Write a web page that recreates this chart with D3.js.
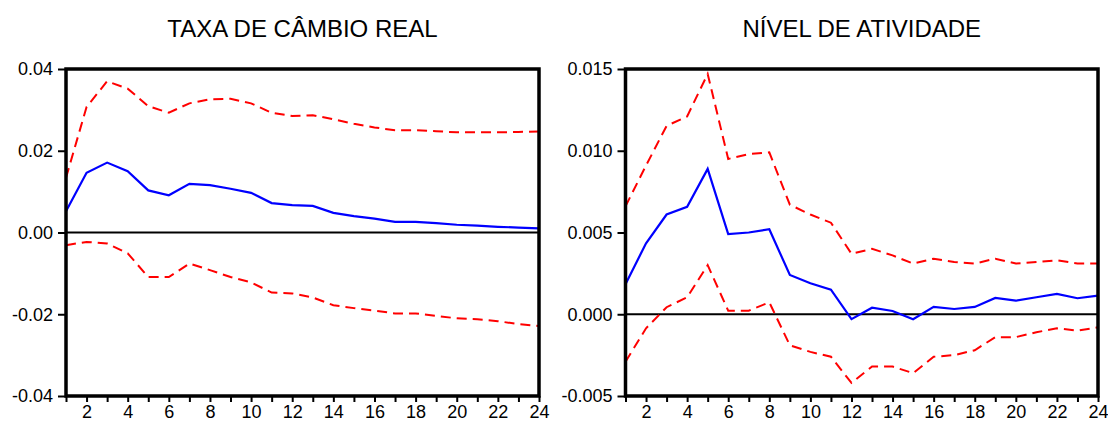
<!DOCTYPE html>
<html>
<head>
<meta charset="utf-8">
<script src="https://cdn.jsdelivr.net/npm/d3@7"></script>
<style>
  body { margin: 0; background: #fff; }
  text { font-family: "Liberation Sans", Arial, sans-serif; fill: #000; }
</style>
</head>
<body>
<div id="viz"></div>
<script>
const periods = d3.range(1, 25);

// taxa de cambio real
const cambioResp  = [0.0052, 0.0146, 0.0171, 0.0150, 0.0103, 0.0091, 0.0119, 0.0116, 0.0107, 0.0097, 0.0072, 0.0067,
                     0.0065, 0.0048, 0.0040, 0.0034, 0.0026, 0.0026, 0.0023, 0.0019, 0.0017, 0.0014, 0.0012, 0.0010];
const cambioUpper = [0.0134, 0.0307, 0.0370, 0.0352, 0.0309, 0.0293, 0.0316, 0.0326, 0.0327, 0.0316, 0.0293, 0.0285,
                     0.0287, 0.0277, 0.0266, 0.0257, 0.0250, 0.0250, 0.0248, 0.0245, 0.0245, 0.0245, 0.0246, 0.0247];
const cambioLower = [-0.0031, -0.0023, -0.0027, -0.0051, -0.0109, -0.0109, -0.0076, -0.0092, -0.0109, -0.0122, -0.0147, -0.0149,
                     -0.0159, -0.0178, -0.0185, -0.0191, -0.0198, -0.0198, -0.0204, -0.0210, -0.0212, -0.0217, -0.0224, -0.0229];
const cambioTicks = [-0.04, -0.02, 0.00, 0.02, 0.04];

// nivel de atividade
const ativResp  = [0.00184, 0.00434, 0.0061, 0.00657, 0.00889, 0.0049, 0.0050, 0.0052, 0.0024, 0.0019, 0.0015, -0.0003,
                   0.0004, 0.0002, -0.0003, 0.00045, 0.00032, 0.00045, 0.0010, 0.00083, 0.00104, 0.00124, 0.00098, 0.00114];
const ativUpper = [0.0066, 0.0091, 0.01152, 0.0121, 0.0147, 0.0095, 0.0098, 0.0099, 0.0067, 0.0061, 0.0056, 0.0037,
                   0.0040, 0.0036, 0.0031, 0.0034, 0.0032, 0.0031, 0.0034, 0.0031, 0.0032, 0.0033, 0.0031, 0.0031];
const ativLower = [-0.0029, -0.00086, 0.00043, 0.00104, 0.0030, 0.00022, 0.00022, 0.00073, -0.0019, -0.0023, -0.0026, -0.0042,
                   -0.0032, -0.0032, -0.0036, -0.0026, -0.0025, -0.0022, -0.0014, -0.0014, -0.0011, -0.00086, -0.0010, -0.0008];
const ativTicks = [-0.005, 0.000, 0.005, 0.010, 0.015];

const svg = d3.select("#viz")
    .append("svg")
        .attr("width", 1108)
        .attr("height", 422);

function panel(title, resp, upper, lower, yTicks, digits, left, right) {
    const top = 69, bottom = 396;

    const x = d3.scaleLinear().domain([1, 24]).range([left, right]);
    const y = d3.scaleLinear()
        .domain([yTicks[0], yTicks[yTicks.length - 1]])
        .range([bottom, top]);

    const g = svg.append("g");

    g.append("text")
        .attr("x", (left + right) / 2)
        .attr("y", 37)
        .attr("text-anchor", "middle")
        .style("font-size", "24px")
        .text(title);

    // y axis
    const yAxis = g.append("g")
        .attr("transform", `translate(${left},0)`)
        .call(d3.axisLeft(y).tickValues(yTicks).tickSize(8).tickPadding(5)
            .tickFormat(d => d.toFixed(digits)));
    yAxis.select(".domain").remove();
    yAxis.selectAll("line").attr("stroke", "#000").attr("stroke-width", 2);
    yAxis.selectAll("text").style("font-size", "18px");

    // x axis: every period ticked, even ones labelled
    const xAxis = g.append("g")
        .attr("transform", `translate(0,${bottom})`)
        .call(d3.axisBottom(x).tickValues(periods).tickSize(6).tickPadding(3)
            .tickFormat(d => d % 2 == 0 ? d : ""));
    xAxis.select(".domain").remove();
    xAxis.selectAll("line").attr("stroke", "#000").attr("stroke-width", 2);
    xAxis.selectAll("text").style("font-size", "18px");

    // zero line
    g.append("line")
        .attr("x1", left).attr("x2", right)
        .attr("y1", y(0)).attr("y2", y(0))
        .attr("stroke", "#000")
        .attr("stroke-width", 2);

    const line = d3.line()
        .x((d, i) => x(periods[i]))
        .y(d => y(d));

    [upper, lower].forEach(function(band) {
        g.append("path")
            .datum(band)
            .attr("fill", "none")
            .attr("stroke", "#ff0000")
            .attr("stroke-width", 2)
            .attr("stroke-dasharray", "10,6")
            .attr("d", line);
    });

    g.append("path")
        .datum(resp)
        .attr("fill", "none")
        .attr("stroke", "#0000ff")
        .attr("stroke-width", 2.2)
        .attr("d", line);

    // frame
    g.append("rect")
        .attr("x", left).attr("y", top)
        .attr("width", right - left).attr("height", bottom - top)
        .attr("fill", "none")
        .attr("stroke", "#000")
        .attr("stroke-width", 3.5);
}

panel("TAXA DE CÂMBIO REAL", cambioResp, cambioUpper, cambioLower, cambioTicks, 2, 66, 539);
panel("NÍVEL DE ATIVIDADE", ativResp, ativUpper, ativLower, ativTicks, 3, 625.5, 1098);
</script>
</body>
</html>
